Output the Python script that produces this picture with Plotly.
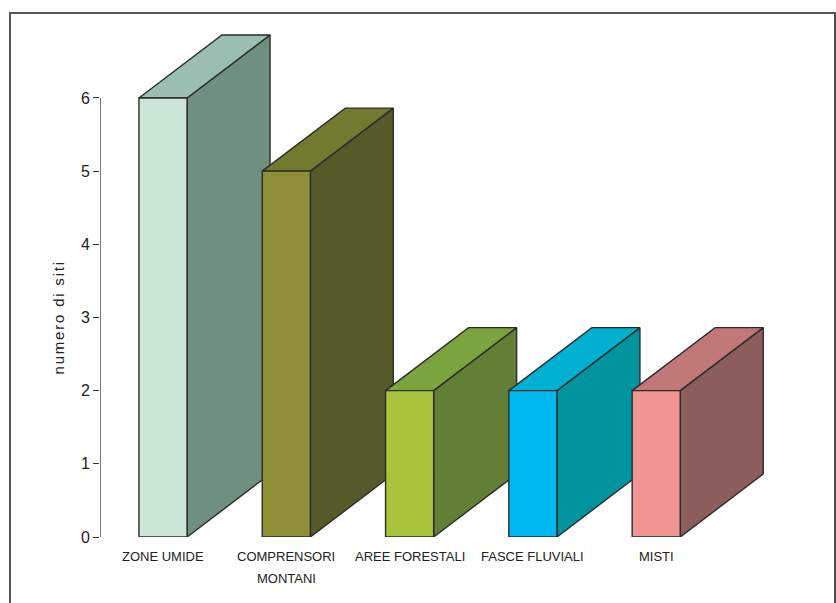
import plotly.graph_objects as go

# Dati
categorie = ["ZONE UMIDE", "COMPRENSORI<br>MONTANI", "AREE FORESTALI", "FASCE FLUVIALI", "MISTI"]
numero_siti = [6, 5, 2, 2, 2]

# Colori delle tre facce (fronte, lato, sopra)
col_fronte = ["#cce6d6", "#8f8f38", "#a8c43c", "#00b8f0", "#ef9393"]
col_lato = ["#6f8f7f", "#555a28", "#627f36", "#00949e", "#8d5d5b"]
col_sopra = ["#9bbfae", "#737a30", "#7ba33e", "#00b0d0", "#c07878"]

# Geometria dei parallelepipedi in unita' degli assi
larghezza = 0.39
prof_x = 0.673
prof_y = 0.861
bordo = dict(color="#2b2b2b", width=1.4)

# Area del grafico in pixel
W, H = 836, 603
L, R, T, B = 100, 36, 20, H - 537
px_x = 700 / 123.3          # unita' x visibili
y_top = 517 / 73.17
x_min = -0.511
x_max = x_min + px_x

fig = go.Figure()

def poligono(xs, ys, colore):
    fig.add_trace(go.Scatter(
        x=xs + [xs[0]], y=ys + [ys[0]], mode="lines", fill="toself",
        fillcolor=colore, line=bordo, hoverinfo="skip", showlegend=False))

for i, v in enumerate(numero_siti):
    x0 = i - larghezza / 2
    x1 = i + larghezza / 2
    # lato destro
    poligono([x1, x1 + prof_x, x1 + prof_x, x1], [0, prof_y, v + prof_y, v], col_lato[i])
    # faccia superiore
    poligono([x0, x0 + prof_x, x1 + prof_x, x1], [v, v + prof_y, v + prof_y, v], col_sopra[i])
    # faccia frontale
    poligono([x0, x1, x1, x0], [0, 0, v, v], col_fronte[i])

# Etichette delle categorie (righe separate)
for i, testo in enumerate(categorie):
    for j, riga in enumerate(testo.split("<br>")):
        fig.add_annotation(
            x=i, y=0, xref="x", yref="y", text=riga, showarrow=False,
            yanchor="middle", yshift=-19 - 22 * j,
            font=dict(family="Liberation Sans, Arial", size=13, color="#222"))

# Linea dell'asse y da 0 a 6
fig.add_shape(type="line", xref="x", yref="y", x0=x_min, x1=x_min, y0=0, y1=6,
              line=dict(color="#333", width=1.3))

# Titolo asse y
fig.add_annotation(
    x=(59 - L) / 700, y=(537 - 318) / 517, xref="paper", yref="paper",
    xshift=-12,
    text='<span style="letter-spacing:1.8px">numero di siti</span>',
    textangle=-90, showarrow=False,
    font=dict(family="Liberation Sans, Arial", size=15, color="#222"))

# Cornice esterna
fig.add_shape(type="rect", xref="paper", yref="paper",
              x0=(10 - L) / 700, x1=(835 - L) / 700,
              y0=(537 - 620) / 517, y1=(537 - 13) / 517,
              line=dict(color="#555", width=2), layer="below")

fig.update_layout(
    width=W, height=H, margin=dict(l=L, r=R, t=T, b=B),
    paper_bgcolor="white", plot_bgcolor="white", showlegend=False,
    xaxis=dict(range=[x_min, x_max], showgrid=False, zeroline=False,
               showticklabels=False, showline=False, ticks=""),
    yaxis=dict(range=[0, y_top], showgrid=False, zeroline=False, showline=False,
               tickvals=[0, 1, 2, 3, 4, 5, 6], ticks="outside", ticklen=6,
               tickwidth=1.2, tickcolor="#333",
               tickfont=dict(family="Liberation Sans, Arial", size=16, color="#222")),
)

fig.write_html("out.html")
